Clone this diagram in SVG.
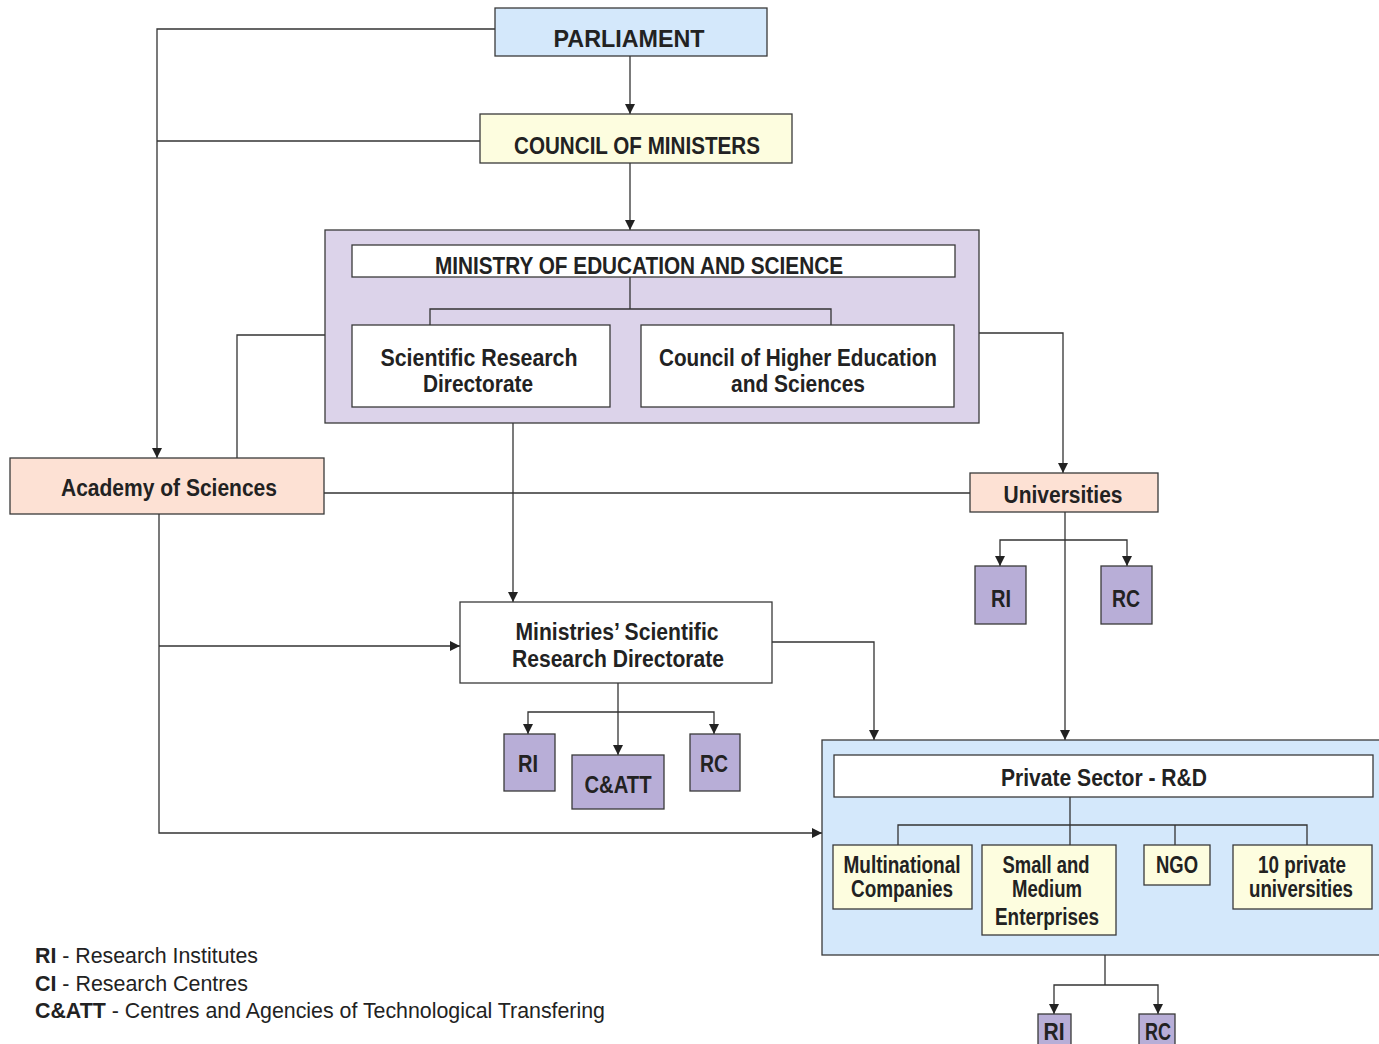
<svg xmlns="http://www.w3.org/2000/svg" width="1379" height="1044" viewBox="0 0 1379 1044">
<defs>
<marker id="ah" markerWidth="10" markerHeight="10" refX="10" refY="5" orient="auto-start-reverse" markerUnits="userSpaceOnUse" viewBox="0 0 10 10">
<path d="M0,0 L10,5 L0,10 z" fill="#222"/>
</marker>
</defs>
<style>
.b{stroke:#3a3a3a;stroke-width:1.3}
.blue{fill:#d4e8fb}
.yel{fill:#fdfddf}
.lav{fill:#dcd3ea}
.wht{fill:#ffffff}
.pch{fill:#fde1d4}
.pur{fill:#b8aed7}
text{font-family:"Liberation Sans Narrow","Liberation Sans",Arial,sans-serif;font-weight:bold;fill:#222;text-anchor:middle;font-size:23px}
.lg{text-anchor:start;font-size:22px}
.lg tspan.n{font-weight:normal}
.c{fill:none;stroke:#333;stroke-width:1.3}
</style>
<rect width="1379" height="1044" fill="#ffffff"/>

<g id="connectors">
<path class="c" d="M630,56 V114" marker-end="url(#ah)"/>
<path class="c" d="M630,163 V230" marker-end="url(#ah)"/>
<path class="c" d="M495,29 H157 V458" marker-end="url(#ah)"/>
<path class="c" d="M480,141 H157"/>
<path class="c" d="M325,335 H237 V458"/>
<path class="c" d="M979,333 H1063 V473" marker-end="url(#ah)"/>
<path class="c" d="M324,493 H970"/>
<path class="c" d="M513,423 V602" marker-end="url(#ah)"/>
<path class="c" d="M159,514 V833 H822" marker-end="url(#ah)"/>
<path class="c" d="M159,646 H460" marker-end="url(#ah)"/>
<path class="c" d="M772,642 H874 V740" marker-end="url(#ah)"/>
<path class="c" d="M1065,512 V740" marker-end="url(#ah)"/>
<path class="c" d="M1000,566 V540 H1127 V566" marker-start="url(#ah)" marker-end="url(#ah)"/>
<path class="c" d="M618,683 V755" marker-end="url(#ah)"/>
<path class="c" d="M528,734 V712 H714 V734" marker-start="url(#ah)" marker-end="url(#ah)"/>
<path class="c" d="M1105,955 V985"/>
<path class="c" d="M1054,1014 V985 H1158 V1014" marker-start="url(#ah)" marker-end="url(#ah)"/>
</g>

<g id="parliament">
<rect class="b blue" x="495" y="8" width="272" height="48"/>
<text x="629" y="47" font-size="27" textLength="151" lengthAdjust="spacingAndGlyphs">PARLIAMENT</text>
</g>

<g id="council-of-ministers">
<rect class="b yel" x="480" y="114" width="312" height="49"/>
<text x="637" y="154" font-size="24" textLength="246" lengthAdjust="spacingAndGlyphs">COUNCIL OF MINISTERS</text>
</g>

<g id="ministry">
<rect class="b lav" x="325" y="230" width="654" height="193"/>
<rect class="b wht" x="352" y="245" width="603" height="32"/>
<text x="639" y="274" textLength="408" lengthAdjust="spacingAndGlyphs">MINISTRY OF EDUCATION AND SCIENCE</text>
<path class="c" d="M630,277 V309 M430,325 V309 H831 V325"/>
</g>

<g id="scientific-research-directorate">
<rect class="b wht" x="352" y="325" width="258" height="82"/>
<text x="479" y="366" textLength="197" lengthAdjust="spacingAndGlyphs">Scientific Research</text>
<text x="478" y="392" textLength="110" lengthAdjust="spacingAndGlyphs">Directorate</text>
</g>

<g id="council-higher-education">
<rect class="b wht" x="641" y="325" width="313" height="82"/>
<text x="798" y="366" textLength="278" lengthAdjust="spacingAndGlyphs">Council of Higher Education</text>
<text x="798" y="392" textLength="134" lengthAdjust="spacingAndGlyphs">and Sciences</text>
</g>

<g id="academy">
<rect class="b pch" x="10" y="458" width="314" height="56"/>
<text x="169" y="496" textLength="216" lengthAdjust="spacingAndGlyphs">Academy of Sciences</text>
</g>

<g id="universities">
<rect class="b pch" x="970" y="473" width="188" height="39"/>
<text x="1063" y="503" textLength="119" lengthAdjust="spacingAndGlyphs">Universities</text>
</g>

<g id="univ-ri">
<rect class="b pur" x="975" y="566" width="51" height="58"/>
<text x="1001" y="607" textLength="20" lengthAdjust="spacingAndGlyphs">RI</text>
</g>
<g id="univ-rc">
<rect class="b pur" x="1101" y="566" width="51" height="58"/>
<text x="1126" y="607" textLength="28" lengthAdjust="spacingAndGlyphs">RC</text>
</g>

<g id="ministries-srd">
<rect class="b wht" x="460" y="602" width="312" height="81"/>
<text x="617" y="640" textLength="203" lengthAdjust="spacingAndGlyphs">Ministries’ Scientific</text>
<text x="618" y="667" textLength="212" lengthAdjust="spacingAndGlyphs">Research Directorate</text>
</g>

<g id="msrd-ri">
<rect class="b pur" x="504" y="734" width="51" height="57"/>
<text x="528" y="772" textLength="20" lengthAdjust="spacingAndGlyphs">RI</text>
</g>
<g id="msrd-catt">
<rect class="b pur" x="572" y="755" width="92" height="54"/>
<text x="618" y="793" textLength="67" lengthAdjust="spacingAndGlyphs">C&amp;ATT</text>
</g>
<g id="msrd-rc">
<rect class="b pur" x="690" y="734" width="50" height="57"/>
<text x="714" y="772" textLength="28" lengthAdjust="spacingAndGlyphs">RC</text>
</g>

<g id="private-sector">
<rect class="b blue" x="822" y="740" width="560" height="215"/>
<rect class="b wht" x="834" y="755" width="539" height="42"/>
<text x="1104" y="786" textLength="206" lengthAdjust="spacingAndGlyphs">Private Sector - R&amp;D</text>
<path class="c" d="M1070,797 V845 M898,845 V825 H1307 V845 M1175,825 V845"/>
</g>

<g id="multinational">
<rect class="b yel" x="833" y="845" width="139" height="64"/>
<text x="902" y="873" textLength="117" lengthAdjust="spacingAndGlyphs">Multinational</text>
<text x="902" y="897" textLength="102" lengthAdjust="spacingAndGlyphs">Companies</text>
</g>
<g id="sme">
<rect class="b yel" x="982" y="845" width="134" height="90"/>
<text x="1046" y="873" textLength="87" lengthAdjust="spacingAndGlyphs">Small and</text>
<text x="1047" y="897" textLength="70" lengthAdjust="spacingAndGlyphs">Medium</text>
<text x="1047" y="925" textLength="104" lengthAdjust="spacingAndGlyphs">Enterprises</text>
</g>
<g id="ngo">
<rect class="b yel" x="1144" y="845" width="66" height="40"/>
<text x="1177" y="873" textLength="42" lengthAdjust="spacingAndGlyphs">NGO</text>
</g>
<g id="private-universities">
<rect class="b yel" x="1233" y="845" width="139" height="64"/>
<text x="1302" y="873" textLength="88" lengthAdjust="spacingAndGlyphs">10 private</text>
<text x="1301" y="897" textLength="104" lengthAdjust="spacingAndGlyphs">universities</text>
</g>

<g id="ps-ri">
<rect class="b pur" x="1038" y="1014" width="33" height="40"/>
<text x="1054" y="1040" textLength="21" lengthAdjust="spacingAndGlyphs">RI</text>
</g>
<g id="ps-rc">
<rect class="b pur" x="1139" y="1014" width="36" height="40"/>
<text x="1158" y="1040" textLength="26" lengthAdjust="spacingAndGlyphs">RC</text>
</g>

<g id="legend">
<text class="lg" x="35" y="963" textLength="223" lengthAdjust="spacingAndGlyphs">RI<tspan class="n"> - Research Institutes</tspan></text>
<text class="lg" x="35" y="991" textLength="213" lengthAdjust="spacingAndGlyphs">CI<tspan class="n"> - Research Centres</tspan></text>
<text class="lg" x="35" y="1018" textLength="570" lengthAdjust="spacingAndGlyphs">C&amp;ATT<tspan class="n"> - Centres and Agencies of Technological Transfering</tspan></text>
</g>
</svg>
